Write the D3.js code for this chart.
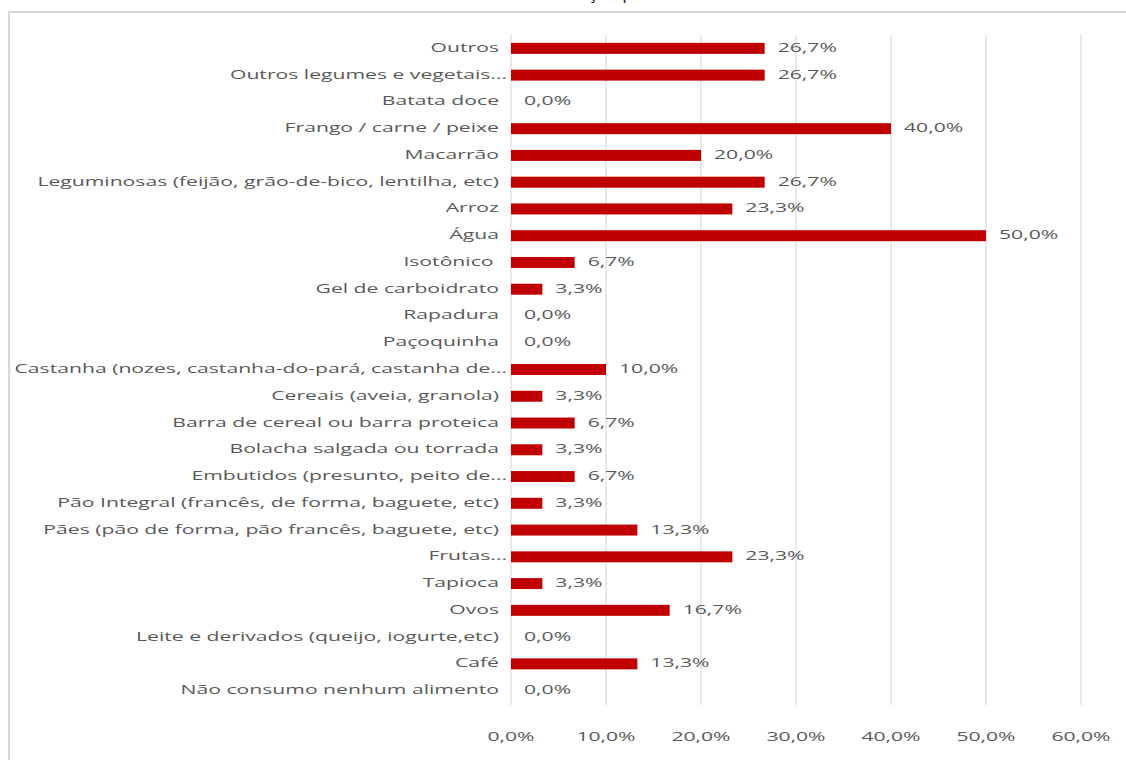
<!DOCTYPE html>
<html>
<head>
<meta charset="utf-8">
<script src="https://cdn.jsdelivr.net/npm/d3@7"></script>
<style>
  body { margin: 0; background: #fff; }
  svg text { font-family: "Open Sans", sans-serif; white-space: pre; }
</style>
</head>
<body>
<svg id="chart" width="1126" height="760"></svg>
<script>
// categories top to bottom, as in the picture
const categories = [
  "Outros",
  "Outros legumes e vegetais...",
  "Batata doce",
  "Frango / carne / peixe",
  "Macarrão",
  "Leguminosas (feijão, grão-de-bico, lentilha, etc)",
  "Arroz",
  "Água",
  "Isotônico ",
  "Gel de carboidrato",
  "Rapadura",
  "Paçoquinha",
  "Castanha (nozes, castanha-do-pará, castanha de...",
  "Cereais (aveia, granola)",
  "Barra de cereal ou barra proteica",
  "Bolacha salgada ou torrada",
  "Embutidos (presunto, peito de...",
  "Pão Integral (francês, de forma, baguete, etc)",
  "Pães (pão de forma, pão francês, baguete, etc)",
  "Frutas...",
  "Tapioca",
  "Ovos",
  "Leite e derivados (queijo, iogurte,etc)",
  "Café",
  "Não consumo nenhum alimento"
];
const values = [
  0.267, 0.267, 0.0, 0.40, 0.20, 0.267, 0.233, 0.50, 0.067, 0.033,
  0.0, 0.0, 0.10, 0.033, 0.067, 0.033, 0.067, 0.033, 0.133, 0.233,
  0.033, 0.167, 0.0, 0.133, 0.0
];
const xTicks = [0, 0.1, 0.2, 0.3, 0.4, 0.5, 0.6];
const titleText = "ção p"; // only the bottom of the title shows in the picture

const data = categories.map((c, i) => ({name: c, value: values[i]}));

const ptBR = d3.formatLocale({decimal: ",", thousands: ".", grouping: [3], currency: ["R$", ""]});
const pct = ptBR.format(".1%");

const svg = d3.select("#chart");
const textColor = "#595959";
const barColor = "#c00000";

// outer frame of the chart area
svg.append("rect")
  .attr("x", 9).attr("y", 12)
  .attr("width", 1140).attr("height", 770)
  .attr("fill", "none")
  .attr("stroke", "#d6d6d6")
  .attr("stroke-width", 2);

svg.append("text")
  .attr("x", 588).attr("y", -1)
  .attr("font-size", 18)
  .attr("fill", "#222")
  .text(titleText);

const x = d3.scaleLinear()
  .domain([0, 0.6])
  .range([511, 1081]);

const y = d3.scaleBand()
  .domain(categories)
  .range([35, 704])
  .paddingInner(0.59)
  .paddingOuter(0.295);

// vertical gridlines
svg.append("g")
  .selectAll("line")
  .data(xTicks)
  .join("line")
  .attr("x1", d => x(d)).attr("x2", d => x(d))
  .attr("y1", 35).attr("y2", 705)
  .attr("stroke", "#e2e2e2")
  .attr("stroke-width", 1.5);

// text in the picture is stretched sideways, so measure and scale it
const probe = svg.append("text").attr("font-size", 13).text(categories[5]);
const sx = 462 / probe.node().getComputedTextLength();
probe.remove();

// category labels
svg.append("g")
  .selectAll("text")
  .data(data)
  .join("text")
  .attr("transform", d => `translate(${d.name.endsWith("...") ? 507 : 499},${y(d.name) + y.bandwidth() / 2}) scale(${sx},1)`)
  .attr("text-anchor", "end")
  .attr("dominant-baseline", "middle")
  .attr("font-size", 13)
  .attr("fill", textColor)
  .text(d => d.name);

// bars
svg.append("g")
  .selectAll("rect")
  .data(data)
  .join("rect")
  .attr("x", x(0))
  .attr("y", d => y(d.name))
  .attr("width", d => x(d.value) - x(0))
  .attr("height", y.bandwidth())
  .attr("fill", barColor);

// value labels
svg.append("g")
  .selectAll("text")
  .data(data)
  .join("text")
  .attr("transform", d => `translate(${x(d.value) + 13},${y(d.name) + y.bandwidth() / 2}) scale(${sx},1)`)
  .attr("dominant-baseline", "middle")
  .attr("font-size", 13)
  .attr("fill", textColor)
  .text(d => pct(d.value));

// x axis tick labels
svg.append("g")
  .selectAll("text")
  .data(xTicks)
  .join("text")
  .attr("transform", d => `translate(${x(d)},738) scale(${sx},1)`)
  .attr("text-anchor", "middle")
  .attr("dominant-baseline", "middle")
  .attr("font-size", 13)
  .attr("fill", textColor)
  .text(d => pct(d));
</script>
</body>
</html>
